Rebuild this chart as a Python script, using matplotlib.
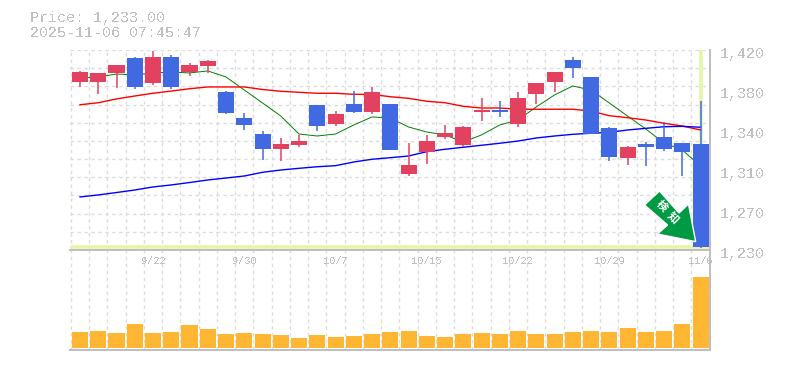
import numpy as np
import matplotlib
matplotlib.use('Agg')
import matplotlib.pyplot as plt
from matplotlib.patches import Polygon

# daily candles
opens = [1389.6, 1389.6, 1398.0, 1412.4, 1388.6, 1413.0, 1399.0, 1404.8, 1380.0, 1355.4,
         1340.0, 1326.0, 1329.8, 1367.8, 1349.7, 1368.7, 1361.0, 1368.7, 1302.0, 1323.0,
         1337.0, 1329.8, 1361.0, 1363.0, 1349.7, 1378.2, 1389.6, 1410.5, 1394.4, 1346.0,
         1317.4, 1330.7, 1337.3, 1331.6, 1330.7]
highs = [1400.0, 1398.0, 1405.8, 1413.0, 1419.0, 1415.0, 1407.6, 1410.5, 1381.0, 1360.0,
         1343.0, 1336.0, 1339.0, 1367.8, 1362.0, 1381.0, 1384.9, 1368.7, 1331.6, 1339.0,
         1348.8, 1347.8, 1374.4, 1371.5, 1380.0, 1388.6, 1399.0, 1413.0, 1394.4, 1346.9,
         1328.8, 1332.6, 1351.6, 1331.6, 1371.5]
lows = [1384.9, 1378.2, 1384.0, 1383.0, 1386.8, 1383.0, 1395.3, 1398.0, 1359.0, 1344.0,
        1315.5, 1314.5, 1327.9, 1343.0, 1347.8, 1360.0, 1359.0, 1325.0, 1300.3, 1311.7,
        1335.0, 1327.9, 1352.5, 1356.0, 1346.9, 1368.7, 1380.0, 1393.4, 1340.0, 1314.5,
        1310.8, 1309.8, 1324.0, 1300.3, 1232.0]
closes = [1399.0, 1398.0, 1405.8, 1384.9, 1413.0, 1384.9, 1405.8, 1409.5, 1360.0, 1348.8,
          1326.0, 1330.7, 1333.5, 1347.8, 1359.0, 1361.0, 1380.0, 1325.0, 1310.8, 1333.5,
          1341.0, 1346.9, 1363.0, 1361.0, 1374.4, 1388.6, 1399.0, 1402.9, 1340.0, 1318.3,
          1327.9, 1327.9, 1326.0, 1323.0, 1233.0]

# moving averages
ma_short = [1393.4, 1394.4, 1397.2, 1396.3, 1398.2, 1399.1, 1398.2, 1400.1, 1394.4, 1382.0,
            1369.7, 1357.3, 1340.2, 1338.3, 1340.2, 1348.8, 1356.4, 1355.4, 1346.9, 1342.1,
            1339.3, 1332.6, 1339.3, 1348.8, 1353.5, 1365.9, 1377.3, 1385.8, 1382.0, 1369.7,
            1357.3, 1345.0, 1331.7, 1325.0, 1309.8]
ma_mid = [1368.0, 1369.9, 1373.5, 1376.3, 1378.9, 1381.0, 1383.2, 1384.9, 1384.9, 1384.9,
          1382.5, 1380.8, 1379.8, 1378.9, 1378.9, 1377.9, 1377.9, 1375.6, 1374.1, 1371.3,
          1369.9, 1366.5, 1364.9, 1364.9, 1363.7, 1363.7, 1363.7, 1363.7, 1362.0, 1357.6,
          1355.7, 1353.5, 1350.4, 1347.8, 1344.0]
ma_long = [1280.4, 1282.3, 1284.6, 1287.0, 1289.9, 1291.8, 1294.1, 1296.5, 1298.4, 1300.3,
           1303.8, 1306.0, 1307.6, 1309.1, 1310.1, 1313.6, 1316.2, 1317.7, 1319.3, 1323.4,
           1325.7, 1327.6, 1329.5, 1331.4, 1333.5, 1336.4, 1338.3, 1339.9, 1340.9, 1341.8,
           1344.0, 1345.6, 1347.1, 1347.5, 1346.6]

volumes = [49, 52, 46, 73, 46, 49, 70, 58, 43, 46, 43, 40, 31, 40, 34, 37, 43, 49,
           52, 37, 34, 43, 46, 43, 52, 43, 43, 49, 52, 49, 61, 49, 52, 73, 214]

date_idx = [4, 9, 14, 19, 24, 29, 34]
date_labels = ['9/22', '9/30', '10/7', '10/15', '10/22', '10/29', '11/6']
price_labels = ['1,420', '1,380', '1,340', '1,310', '1,270', '1,230']

W, H = 785, 370
MONO = 'Liberation Mono'
TEXT_GRAY = '#c0c0c0'
AXIS_GRAY = '#c0bcc0'
GRID_GRAY = '#dcdcdc'
UP = '#e2425f'
DOWN = '#4169e1'
HILITE = '#e4f7a8'

plt.rcParams['text.antialiased'] = False


# axes placed by pixel box, y counted from the top
def pixel_axes(fig, left, top, right, bottom):
    return fig.add_axes([left / W, 1 - bottom / H, (right - left) / W, (bottom - top) / H])


def style_axes(ax):
    ax.set_xlim(-0.548, 34.52)
    ax.set_xticks(np.arange(35) - 0.5, minor=True)
    ax.grid(True, which='minor', axis='x', color=GRID_GRAY, linestyle=(0, (2.5, 2.5)), linewidth=1)
    ax.tick_params(which='both', length=0)
    ax.set_axisbelow(True)
    ax.spines['top'].set_visible(False)
    ax.spines['left'].set_visible(False)
    for s in ['right', 'bottom']:
        ax.spines[s].set_color(AXIS_GRAY)
        ax.spines[s].set_linewidth(1.4)


fig = plt.figure(figsize=(W / 100, H / 100), dpi=100)
ax = pixel_axes(fig, 70, 50, 710, 250)
vax = pixel_axes(fig, 70, 250, 710, 350)
style_axes(ax)
style_axes(vax)
# date labels fall inside the volume panel, keep them on top
vax.set_zorder(1)
ax.set_zorder(2)
ax.patch.set_alpha(0)

# price panel
ax.set_ylim(1230, 1420)
ax.set_yticks(np.linspace(1230, 1420, 12))
ax.set_yticklabels([])
ax.grid(True, which='major', axis='y', color=GRID_GRAY, linestyle=(0, (2.5, 2.5)), linewidth=1)
ax.set_xticks(date_idx)
ax.set_xticklabels(date_labels, family=MONO, fontsize=7.4, color=TEXT_GRAY)
ax.tick_params(axis='x', which='major', pad=4.5)

x = np.arange(len(closes))
ax.axvline(x[-1], color=HILITE, linewidth=2.6, zorder=1.5)
ax.axhline(closes[-1], color=HILITE, linewidth=2.6, zorder=1.5)

ax.plot(x, ma_short, color='#008000', linewidth=0.7, zorder=2)
ax.plot(x, ma_mid, color='#ff0000', linewidth=1.0, zorder=2)
ax.plot(x, ma_long, color='#0000ff', linewidth=1.0, zorder=2)

for i in x:
    col = UP if closes[i] >= opens[i] else DOWN
    ax.vlines(i, lows[i], highs[i], color=col, linewidth=1.1, zorder=3)
    ax.bar(i, abs(closes[i] - opens[i]), bottom=min(opens[i], closes[i]), width=0.877,
           color=col, zorder=3)

# price labels sit 3px under their level
for lab, val in zip(price_labels, np.linspace(1420, 1230, 6)):
    ax.annotate(lab, xy=(1, val), xycoords=('axes fraction', 'data'), xytext=(7.5, -3.0),
                textcoords='offset points', family=MONO, fontsize=10.8, color=TEXT_GRAY,
                va='center', ha='left', annotation_clip=False)

# volume panel
vax.set_ylim(-6, 294)
vax.set_yticks([])
vax.set_xticks([])
vax.bar(x, volumes, width=0.877, color='#ffb733', zorder=3)

# header
fig.text(30 / W, 1 - 18 / H, 'Price: 1,233.00', family=MONO, fontsize=10.8, color=TEXT_GRAY, va='center')
fig.text(30 / W, 1 - 33 / H, '2025-11-06 07:45:47', family=MONO, fontsize=10.8, color=TEXT_GRAY, va='center')

# arrow badge, drawn in pixels
arrow_px = [(659.5, 191), (644.5, 205), (667.5, 225), (657.5, 234), (695.7, 241.7),
            (688.5, 204), (679, 213)]
arrow_fig = [(px / W, 1 - py / H) for px, py in arrow_px]
fig.add_artist(Polygon(arrow_fig, closed=True, transform=fig.transFigure, facecolor='#009944',
                       edgecolor='white', linewidth=1.0, zorder=10))
for ch, (px, py) in zip('検知', [(662, 206), (673, 218)]):
    fig.text(px / W, 1 - py / H, ch, family=['Noto Sans CJK JP', 'DejaVu Sans'], fontsize=8,
             fontweight='bold', color='white', rotation=-45, ha='center', va='center',
             rotation_mode='anchor', zorder=11, antialiased=True)

fig.savefig('out.png', dpi=100)
